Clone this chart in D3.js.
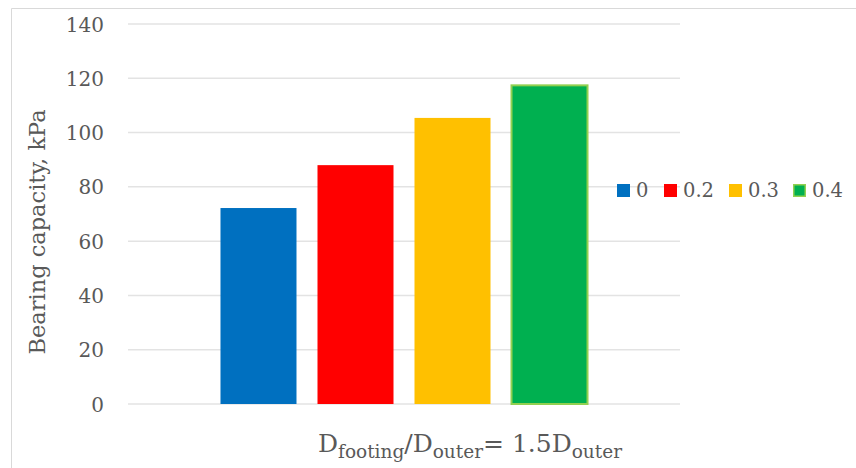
<!DOCTYPE html>
<html>
<head>
<meta charset="utf-8">
<script src="https://cdn.jsdelivr.net/npm/d3@7"></script>
<style>
  html, body { margin: 0; padding: 0; background: #fff; }
  svg { display: block; }
  text { font-family: "DejaVu Serif", serif; fill: #595959; }
</style>
</head>
<body>
<svg id="chart" width="856" height="468"></svg>
<script>
// Bearing capacity for each ratio, single footing group
const categories = ["Dfooting/Douter= 1.5Douter"];
const seriesNames = ["0", "0.2", "0.3", "0.4"];
const seriesValues = [72.2, 88.0, 105.4, 117.4];
const seriesColors = ["#0070C0", "#FF0000", "#FFC000", "#00B050"];
const seriesStrokes = [null, null, null, "#92D050"];
const yTicks = [0, 20, 40, 60, 80, 100, 120, 140];

const svg = d3.select("#chart");
const plot = { left: 128, right: 680, top: 24, bottom: 404 };

// chart frame
svg.append("path")
  .attr("d", "M11.5,468 V8.5 H856")
  .attr("fill", "none")
  .attr("stroke", "#d9d9d9")
  .attr("stroke-width", 1);

const y = d3.scaleLinear().domain([0, 140]).range([plot.bottom, plot.top]);

const x0 = d3.scaleBand()
  .domain(categories)
  .range([plot.left, plot.right])
  .paddingInner(0)
  .paddingOuter(0.252);

const x1 = d3.scaleBand()
  .domain(seriesNames)
  .range([0, x0.bandwidth()])
  .paddingInner(21 / 97)
  .paddingOuter(0);

// gridlines
svg.append("g")
  .selectAll("line")
  .data(yTicks)
  .join("line")
  .attr("x1", plot.left)
  .attr("x2", plot.right)
  .attr("y1", d => y(d))
  .attr("y2", d => y(d))
  .attr("stroke", "#e3e3e3")
  .attr("stroke-width", 1.5);

// y axis labels
const yAxis = d3.axisLeft(y).tickValues(yTicks).tickSize(0).tickPadding(0);
const yg = svg.append("g")
  .attr("transform", `translate(104,0)`)
  .call(yAxis);
yg.select(".domain").remove();
yg.selectAll("text")
  .attr("font-family", "DejaVu Serif, serif")
  .attr("font-size", 20)
  .attr("fill", "#595959")
  .attr("dy", "0.35em");

// bars
const group = svg.append("g")
  .selectAll("g")
  .data(categories)
  .join("g")
  .attr("transform", d => `translate(${x0(d)},0)`);

group.selectAll("rect")
  .data(seriesNames.map((s, i) => ({ s, v: seriesValues[i], c: seriesColors[i], k: seriesStrokes[i] })))
  .join("rect")
  .attr("x", d => x1(d.s))
  .attr("width", x1.bandwidth())
  .attr("y", d => y(d.v))
  .attr("height", d => y(0) - y(d.v))
  .attr("fill", d => d.c)
  .attr("stroke", d => d.k || "none")
  .attr("stroke-width", d => d.k ? 2 : 0);

// y axis title
svg.append("text")
  .attr("transform", "translate(45,232) rotate(-90)")
  .attr("text-anchor", "middle")
  .attr("font-size", 22.5)
  .text("Bearing capacity, kPa");

// x axis title with subscripts
const xt = svg.append("text")
  .attr("x", 470)
  .attr("y", 452)
  .attr("text-anchor", "middle")
  .attr("font-size", 25);
xt.append("tspan").text("D");
xt.append("tspan").attr("font-size", 18.5).attr("dy", 6).text("footing");
xt.append("tspan").attr("dy", -6).text("/D");
xt.append("tspan").attr("font-size", 18.5).attr("dy", 6).text("outer");
xt.append("tspan").attr("dy", -6).text("= 1.5D");
xt.append("tspan").attr("font-size", 18.5).attr("dy", 6).text("outer");

// legend
const legendX = [617, 664, 729, 793];
const lg = svg.append("g");
seriesNames.forEach((s, i) => {
  const g = lg.append("g").attr("transform", `translate(${legendX[i]},184)`);
  g.append("rect")
    .attr("x", seriesStrokes[i] ? 0.75 : 0)
    .attr("y", seriesStrokes[i] ? 0.75 : 0)
    .attr("width", seriesStrokes[i] ? 11.5 : 13)
    .attr("height", seriesStrokes[i] ? 11.5 : 13)
    .attr("fill", seriesColors[i])
    .attr("stroke", seriesStrokes[i] || "none")
    .attr("stroke-width", seriesStrokes[i] ? 1.5 : 0);
  g.append("text")
    .attr("x", 19)
    .attr("y", 6.5)
    .attr("dy", "0.35em")
    .attr("font-size", 19.5)
    .text(s);
});
</script>
</body>
</html>
